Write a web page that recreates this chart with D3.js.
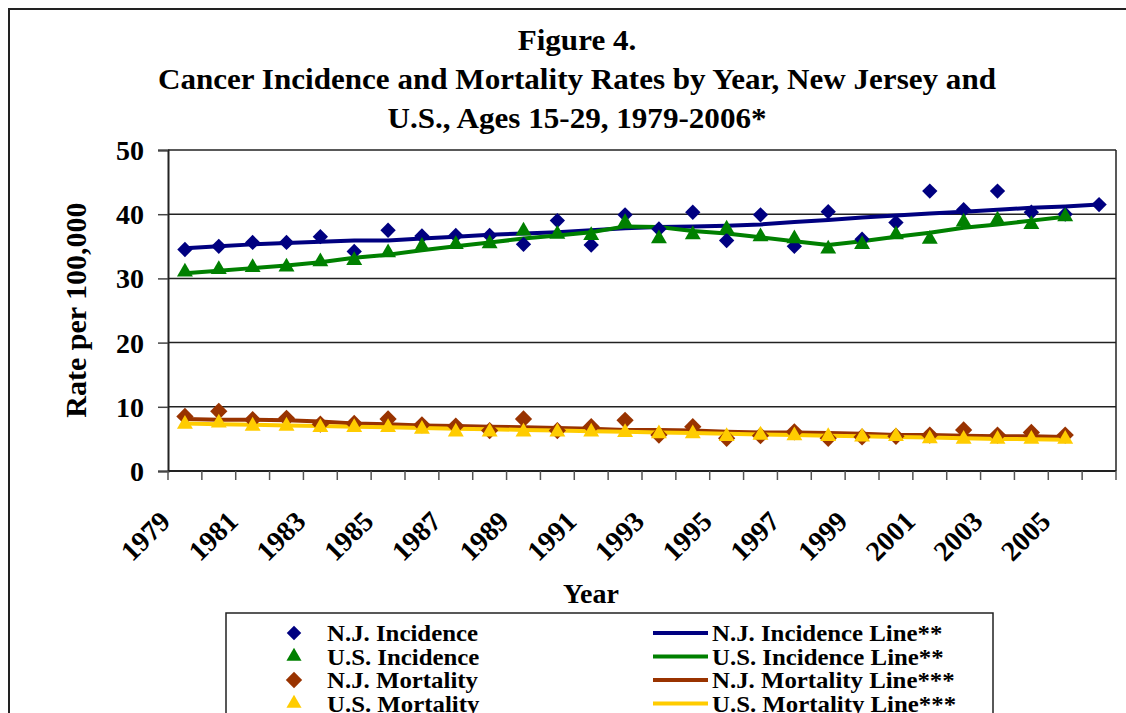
<!DOCTYPE html>
<html>
<head>
<meta charset="utf-8">
<script src="https://cdn.jsdelivr.net/npm/d3@7"></script>
<style>
  body { margin: 0; background: #fff; }
  text { font-family: "Liberation Serif", "Times New Roman", serif; font-weight: bold; fill: #000; }
</style>
</head>
<body>
<svg width="1126" height="713"></svg>
<script>
// categories
const years = [1979, 1980, 1981, 1982, 1983, 1984, 1985, 1986, 1987, 1988, 1989, 1990, 1991, 1992,
  1993, 1994, 1995, 1996, 1997, 1998, 1999, 2000, 2001, 2002, 2003, 2004, 2005, 2006];
const tickLabels = ["1979", "1981", "1983", "1985", "1987", "1989", "1991", "1993", "1995", "1997",
  "1999", "2001", "2003", "2005"];
const yTicks = [0, 10, 20, 30, 40, 50];

// series values (rate per 100,000)
const njIncidence = [34.5, 35.0, 35.6, 35.6, 36.5, 34.2, 37.5, 36.6, 36.7, 36.7, 35.3, 39.0, 35.2, 39.9,
  37.7, 40.3, 35.9, 39.9, 35.0, 40.4, 36.1, 38.7, 43.6, 40.7, 43.6, 40.3, 40.0, 41.5];
const njIncidenceLine = [34.7, 35.0, 35.3, 35.5, 35.7, 35.9, 35.9, 36.2, 36.5, 36.8, 37.0, 37.2, 37.5, 37.8,
  38.0, 38.1, 38.2, 38.4, 38.8, 39.1, 39.5, 39.8, 40.1, 40.4, 40.7, 41.0, 41.2, 41.5];
const usIncidence = [31.0, 31.4, 31.7, 31.8, 32.6, 32.8, 34.0, 35.0, 35.3, 35.4, 37.4, 36.9, 36.7, 38.7,
  36.2, 36.8, 37.7, 36.5, 36.2, 34.6, 35.3, 36.8, 36.1, 38.8, 39.1, 38.4, 39.6];
const usIncidenceLine = [30.8, 31.2, 31.6, 32.0, 32.5, 33.2, 33.7, 34.4, 35.0, 35.6, 36.2, 36.7, 37.2, 38.1,
  38.0, 37.4, 37.0, 36.4, 35.8, 35.2, 35.8, 36.5, 37.1, 37.9, 38.4, 39.0, 39.6];
const njMortality = [8.5, 9.3, 8.0, 8.2, 7.3, 7.4, 8.1, 7.2, 7.0, 6.3, 8.1, 6.3, 6.9, 7.9,
  5.6, 6.9, 5.1, 5.5, 6.1, 5.1, 5.3, 5.4, 5.6, 6.4, 5.6, 6.0, 5.6];
const njMortalityLine = [8.1, 8.0, 8.0, 7.9, 7.7, 7.4, 7.3, 7.1, 7.0, 6.9, 6.8, 6.7, 6.6, 6.4,
  6.4, 6.3, 6.1, 6.0, 6.0, 5.9, 5.8, 5.6, 5.6, 5.5, 5.4, 5.4, 5.3];
const usMortality = [7.3, 7.5, 7.0, 7.0, 6.8, 6.8, 6.8, 6.5, 6.1, 6.1, 6.1, 6.1, 6.1, 6.0,
  5.8, 5.8, 5.4, 5.6, 5.5, 5.4, 5.3, 5.4, 5.05, 4.95, 4.95, 4.95, 4.95];
const usMortalityLine = [7.4, 7.3, 7.2, 7.1, 7.0, 6.9, 6.8, 6.7, 6.6, 6.5, 6.4, 6.3, 6.2, 6.1,
  6.0, 5.9, 5.8, 5.7, 5.6, 5.5, 5.4, 5.3, 5.2, 5.1, 5.0, 4.95, 4.85];

const svg = d3.select("svg");
const margin = {top: 150, right: 10, bottom: 242, left: 168};
const width = 1126 - margin.left - margin.right;
const height = 713 - margin.top - margin.bottom;

// outer chart border (runs off the right and bottom of the picture)
svg.append("rect")
  .attr("x", 9).attr("y", 9).attr("width", 1130).attr("height", 720)
  .attr("fill", "none").attr("stroke", "#222").attr("stroke-width", 2);

// title, drawn condensed
const titleLines = ["Figure 4.", "Cancer Incidence and Mortality Rates by Year, New Jersey and",
  "U.S., Ages 15-29, 1979-2006*"];
const titleY = [50, 89, 128];
const title = svg.append("g");
title.selectAll("text").data(titleLines).join("text")
  .attr("x", 577).attr("y", (d, i) => titleY[i])
  .attr("text-anchor", "middle")
  .attr("font-size", 30)
  .text(d => d);
const titleScale = 838 / title.select("text:nth-child(2)").node().getComputedTextLength();
title.selectAll("text").each(function() {
  d3.select(this).attr("textLength", this.getComputedTextLength() * titleScale)
    .attr("lengthAdjust", "spacingAndGlyphs");
});

const g = svg.append("g").attr("transform", `translate(${margin.left},${margin.top})`);

const x = d3.scaleBand().domain(years).range([0, width]).padding(0);
const cx = d => x(d) + x.bandwidth() / 2;
const y = d3.scaleLinear().domain([0, 50]).range([height, 0]);

// gridlines
g.append("g").selectAll("line").data(yTicks.slice(1)).join("line")
  .attr("x1", 0).attr("x2", width)
  .attr("y1", d => y(d)).attr("y2", d => y(d))
  .attr("stroke", "#222").attr("stroke-width", 1.5);

// plot border (right side)
g.append("line").attr("x1", width).attr("x2", width).attr("y1", 0).attr("y2", height)
  .attr("stroke", "#222").attr("stroke-width", 1.5);

// Y axis
const yAxis = g.append("g")
  .call(d3.axisLeft(y).tickValues(yTicks).tickSize(10).tickPadding(14).tickFormat(d3.format("d")));
yAxis.select(".domain").attr("stroke", "#222").attr("stroke-width", 2);
yAxis.selectAll(".tick line").attr("stroke", "#444").attr("stroke-width", 1.5);
yAxis.selectAll(".tick text").attr("font-size", 28).attr("dy", "0.34em")
  .style("font-family", "'Liberation Serif', serif").style("font-weight", "bold");

// X axis with ticks between categories
const xAxis = g.append("g").attr("transform", `translate(0,${height})`);
xAxis.append("line").attr("x1", 0).attr("x2", width).attr("stroke", "#222").attr("stroke-width", 2);
xAxis.selectAll(".xt").data(years.concat([null])).join("line")
  .attr("class", "xt")
  .attr("x1", (d, i) => i * x.bandwidth()).attr("x2", (d, i) => i * x.bandwidth())
  .attr("y1", 0).attr("y2", 9)
  .attr("stroke", "#555").attr("stroke-width", 1.5);
xAxis.selectAll(".xl").data(tickLabels).join("text")
  .attr("class", "xl")
  .attr("text-anchor", "end")
  .attr("font-size", 28)
  .attr("transform", d => `translate(${cx(+d) - 13},52) rotate(-45)`)
  .text(d => d);

// axis titles
svg.append("text").attr("x", 591).attr("y", 603).attr("text-anchor", "middle")
  .attr("font-size", 28).text("Year");
svg.append("text").attr("transform", "translate(86,310) rotate(-90)")
  .attr("text-anchor", "middle").attr("font-size", 30).text("Rate per 100,000");

const series = [
  {name: "N.J. Incidence", pts: njIncidence, line: njIncidenceLine, color: "#000080", shape: d3.symbolDiamond2, size: 150, lname: "N.J. Incidence Line**"},
  {name: "U.S. Incidence", pts: usIncidence, line: usIncidenceLine, color: "#008000", shape: d3.symbolTriangle, size: 110, lname: "U.S. Incidence Line**"},
  {name: "N.J. Mortality", pts: njMortality, line: njMortalityLine, color: "#993300", shape: d3.symbolDiamond2, size: 190, lname: "N.J. Mortality Line***"},
  {name: "U.S. Mortality", pts: usMortality, line: usMortalityLine, color: "#FFCC00", shape: d3.symbolTriangle, size: 110, lname: "U.S. Mortality Line***"}
];

const line = d3.line().x((d, i) => cx(years[i])).y(d => y(d));

series.forEach(s => {
  g.append("path").datum(s.line)
    .attr("d", line).attr("fill", "none")
    .attr("stroke", s.color).attr("stroke-width", 4).attr("stroke-linejoin", "round");
});

series.forEach(s => {
  g.append("g").selectAll("path").data(s.pts).join("path")
    .attr("d", d3.symbol().type(s.shape).size(s.size))
    .attr("transform", (d, i) => `translate(${cx(years[i])},${y(d)})`)
    .attr("fill", s.color);
});

// legend
const legend = svg.append("g");
legend.append("rect").attr("x", 226).attr("y", 613).attr("width", 767).attr("height", 130)
  .attr("fill", "#fff").attr("stroke", "#222").attr("stroke-width", 1.5);
const rowY = [633, 656.5, 680, 703.5];
const legendTexts = [];
series.forEach((s, i) => {
  legend.append("path")
    .attr("d", d3.symbol().type(s.shape).size(s.size * 0.9))
    .attr("transform", `translate(294,${rowY[i]})`).attr("fill", s.color);
  legendTexts.push(legend.append("text").attr("x", 327).attr("y", rowY[i] + 8)
    .attr("font-size", 24).text(s.name));
  legend.append("line").attr("x1", 653).attr("x2", 708).attr("y1", rowY[i]).attr("y2", rowY[i])
    .attr("stroke", s.color).attr("stroke-width", 4);
  legendTexts.push(legend.append("text").attr("x", 712).attr("y", rowY[i] + 8)
    .attr("font-size", 24).text(s.lname));
});
const legendScale = 151 / legendTexts[0].node().getComputedTextLength();
legendTexts.forEach(t => {
  t.attr("textLength", t.node().getComputedTextLength() * legendScale)
    .attr("lengthAdjust", "spacingAndGlyphs");
});
</script>
</body>
</html>
